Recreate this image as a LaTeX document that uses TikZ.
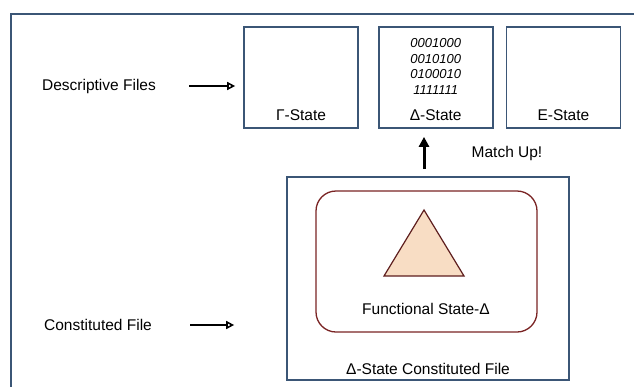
\documentclass[tikz,border=0pt]{standalone}
\usepackage{fontspec}
\setmainfont{Liberation Sans}
\usepackage{tikz}
\usetikzlibrary{arrows.meta, positioning, calc}

\definecolor{frameblue}{HTML}{3B5676}
\definecolor{ovalred}{HTML}{7A2424}
\definecolor{peach}{HTML}{F8DDC4}
\definecolor{trired}{HTML}{5E1E1E}

\tikzset{
	statebox/.style={draw=frameblue, line width=1.7pt, minimum width=114pt, minimum height=101pt, inner sep=0pt},
	caption/.style={font=\fontsize{15.5}{18}\selectfont, inner sep=1pt},
	flow/.style={-{Triangle[open, length=8pt, width=8pt]}, line width=1.6pt},
	matchup/.style={-{Triangle[length=10pt, width=10pt]}, line width=3pt}
}

\begin{document}
\begin{tikzpicture}[x=1pt, y=-1pt, node distance=19pt and 19pt]
		\useasboundingbox (0,0) rectangle (634,386);
		\clip (0,0) rectangle (634,386);
		\draw[frameblue, line width=1.8pt] (11,14) rectangle (660,420);
		% descriptive files
		\node[statebox] (g) at (301,77.5) {};
		\node[statebox, right =of g] (d) {};
		\node[statebox, right =12pt of d] (e) {};
		\node[caption, above =7pt of g.south] {Γ-State};
		\node[caption, above =7pt of d.south] {Δ-State};
		\node[caption, above =7pt of e.south] {E-State};
		\node[below =12pt of d.north, inner sep=0pt, align=center, font=\fontsize{13}{15.7}\selectfont\itshape] (bits) {0001000\\0010100\\0100010\\1111111};
		\node[caption] (desc) at (99,86) {Descriptive Files};
		% constituted file
		\node[draw=frameblue, line width=1.7pt, minimum width=282pt, minimum height=203pt] (big) at (428,278.5) {};
		\node[draw=ovalred, line width=1.3pt, rounded corners=20pt, minimum width=221pt, minimum height=141pt] (oval) at (426.5,261.5) {};
		\draw[trired, line width=1.2pt, fill=peach] (424,210) coordinate (apex) -- (464,276) -- (384,276) -- cycle;
		\node[caption] (func) at (426,309) {Functional State-Δ};
		\node[caption, above =5pt of big.south] {Δ-State Constituted File};
		\node[caption] (const) at (98,325) {Constituted File};
		\node[caption] (match) at (507,153) {Match Up!};
		% arrows
		\draw[flow] ([xshift=32pt]desc.east) -- ([xshift=-8pt]desc.east -| g.west);
		\draw[flow] ([xshift=37pt]const.east) -- ([xshift=-52pt]const.east -| big.west);
		\draw[matchup] ([yshift=7pt]big.north -| apex) -- ([yshift=-8pt]d.south -| apex);
	\end{tikzpicture}
\end{document}
